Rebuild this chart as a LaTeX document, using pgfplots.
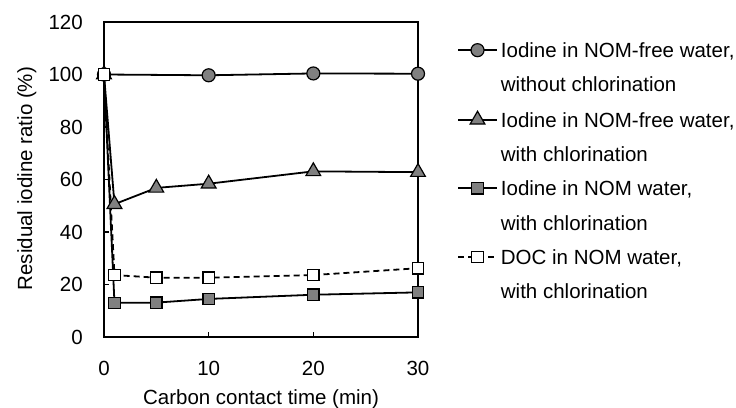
\documentclass[border=0pt]{standalone}
\usepackage{fontspec}
\setmainfont{Liberation Sans}
\usepackage{pgfplots}
\pgfplotsset{compat=1.18}
\definecolor{mgray}{RGB}{128,128,128}
\begin{document}
\begin{tikzpicture}[x=1pt,y=1pt]
\useasboundingbox (0,0) rectangle (736,407);
\begin{axis}[
  at={(104pt,70pt)}, anchor=south west,
  scale only axis, width=314pt, height=315pt,
  xmin=0, xmax=30, ymin=0, ymax=120,
  xtick={0,10,20,30}, ytick={0,20,...,120},
  xtick pos=bottom, ytick pos=left,
  tick align=inside, major tick length=5pt,
  axis line style={line width=2.5pt},
  every tick/.style={black, line width=1.5pt},
  font=\fontsize{20.5}{24}\selectfont,
  /pgf/number format/assume math mode=true,
  xticklabel style={anchor=base, inner sep=0pt, yshift=-38pt},
  yticklabel style={anchor=east, inner sep=0pt, xshift=-21pt},
  xlabel={Carbon contact time (min)},
  ylabel={Residual iodine ratio (\%)},
  xlabel style={at={(axis description cs:0.5,0)}, anchor=base, inner sep=0pt, yshift=-67pt},
  ylabel style={at={(axis description cs:-0.229,0.503)}, anchor=base, inner sep=0pt},
  legend image code/.code={\draw[mark repeat=2,mark phase=2] plot coordinates {(0pt,0pt) (19.5pt,0pt) (39pt,0pt)};},
  legend style={at={(axis description cs:1.124,0.935)}, anchor=north west,
    draw=none, fill=none, inner sep=0pt, row sep=19.3pt, column sep=3pt,
    font=\fontsize{20.5}{24}\selectfont,
    nodes={inner sep=0pt, text height=15pt, text depth=0pt, anchor=west}},
  legend cell align=left,
]
\addplot[black, line width=1.8pt, mark=*, mark size=6.5pt, mark options={fill=mgray, line width=1.2pt}]
  coordinates {(0,100) (10,99.7) (20,100.4) (30,100.3)};
\addlegendentry{Iodine in NOM-free water,}
\addlegendimage{empty legend}
\addlegendentry{without chlorination}
\addplot[black, line width=1.8pt, mark=triangle*, mark size=8.5pt, mark options={fill=mgray, line width=1.2pt}]
  coordinates {(0,100) (1,50.6) (5,56.8) (10,58.4) (20,63.1) (30,62.8)};
\addlegendentry{Iodine in NOM-free water,}
\addlegendimage{empty legend}
\addlegendentry{with chlorination}
\addplot[black, line width=1.8pt, mark=square*, mark size=5.7pt, mark options={fill=mgray, line width=1.2pt}]
  coordinates {(0,100) (1,13.0) (5,13.1) (10,14.5) (20,16.1) (30,17.0)};
\addlegendentry{Iodine in NOM water,}
\addlegendimage{empty legend}
\addlegendentry{with chlorination}
\addplot[black, line width=1.8pt, dash pattern=on 6pt off 4pt, mark=square*, mark size=5.7pt, mark options={fill=white, solid, line width=1.2pt}]
  coordinates {(0,100) (1,23.6) (5,22.6) (10,22.6) (20,23.6) (30,26.2)};
\addlegendentry{DOC in NOM water,}
\addlegendimage{empty legend}
\addlegendentry{with chlorination}
\end{axis}
\end{tikzpicture}
\end{document}
